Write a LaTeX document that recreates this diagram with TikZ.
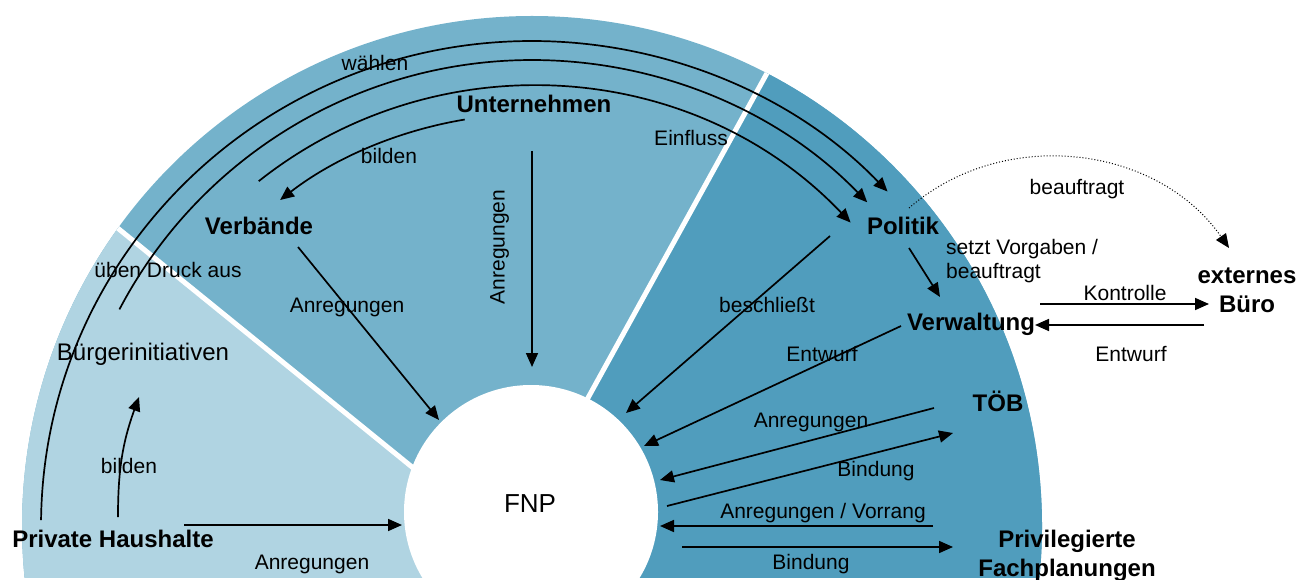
\documentclass[tikz,border=0pt]{standalone}
\usepackage{fontspec}
\setmainfont{Liberation Sans}
\usetikzlibrary{arrows.meta}
\definecolor{sectorA}{HTML}{B0D4E2}
\definecolor{sectorB}{HTML}{74B2CB}
\definecolor{sectorC}{HTML}{509DBD}
\tikzset{
  conn/.style={line width=1.7pt, -{Triangle[length=14pt,width=12pt]}},
  lbl/.style={font=\fontsize{21}{24}\selectfont, inner sep=0pt, text height=15.1pt, text depth=0pt},
  lblmulti/.style={font=\fontsize{21}{24}\selectfont, inner sep=0pt, align=left},
  actor/.style={font=\fontsize{24}{28}\selectfont\bfseries, inner sep=0pt, text height=17.3pt, text depth=0pt},
  actormulti/.style={font=\fontsize{24}{29}\selectfont\bfseries, inner sep=0pt, align=center},
  plain/.style={font=\fontsize{24}{28}\selectfont, inner sep=0pt, text height=17.3pt, text depth=0pt},
  divider/.style={white, line width=5pt},
}
\begin{document}
\begin{tikzpicture}[x=1pt,y=1pt]
\useasboundingbox (0,0) rectangle (1297,579);
\coordinate (C) at (532,53);

% three sectors of the half disc
\begin{scope}
  \clip (0,2) rectangle (1297,579);
  \clip (C) circle[radius=510];
  \fill[sectorB] (0,0) rectangle (1297,579);
  \fill[sectorA] (-26,467.5) -- (558,-6.5) -- (-30,-10) -- cycle;
  \fill[sectorC] (852,660) -- (465,-42) -- (1100,-42) -- (1100,660) -- cycle;
  \draw[divider] (-26,467.5) -- (558,-6.5);
  \draw[divider] (852,660) -- (465,-42);
\end{scope}

% central plan
\node[circle, fill=white, minimum size=254pt, inner sep=0pt] (fnpdisc) at (531,67) {};
\node[font=\fontsize{26}{30}\selectfont, inner sep=0pt, text height=18.7pt, text depth=0pt] (fnp) at (530,76) {FNP};

% actors
\node[actor] (unt) at (534,475) {Unternehmen};
\node[actor] (verb) at (259,353) {Verbände};
\node[actor] (pol) at (903,353) {Politik};
\node[actor] (verw) at (971,257) {Verwaltung};
\node[actor] (toeb) at (998,176) {TÖB};
\node[actormulti] (priv) at (1067,23) {Privilegierte\\Fachplanungen};
\node[actormulti] (ext) at (1247,289) {externes\\Büro};
\node[actor] (ph) at (113,40) {Private Haushalte};
\node[plain] (bi) at (143,227) {Bürgerinitiativen};

% connector end points
\coordinate (a1s) at ([shift={(179.3:491 and 485)}]C);
\coordinate (a2s) at ([shift={(152.3:466)}]C);
\coordinate (a3s) at ([shift={(128.4:440)}]C);
\coordinate (a4s) at ([shift={(99.4:412)}]C);
\coordinate (verbOut) at (298,332);   \coordinate (fnpNW) at (439,159);
\coordinate (untOut) at (532,428);    \coordinate (fnpN) at (532,212);
\coordinate (polOut) at (830,343);    \coordinate (fnpNE) at (626,166);
\coordinate (polDn) at (909,331);     \coordinate (verwUp) at (940,282);
\coordinate (polRt) at (909,371);     \coordinate (extUp) at (1229,331);
\coordinate (verwR1) at (1040,275);   \coordinate (extL1) at (1209,275);
\coordinate (extL2) at (1204,254);    \coordinate (verwR2) at (1035,254);
\coordinate (verwOut) at (901,253);   \coordinate (fnpE1) at (644,133);
\coordinate (toebOut) at (934,171);   \coordinate (fnpE2) at (660,99);
\coordinate (fnpE3) at (667,73);      \coordinate (toebIn) at (953,146);
\coordinate (privOut) at (933,53);    \coordinate (fnpE4) at (660,53);
\coordinate (fnpE5) at (682,32);      \coordinate (privIn) at (953,32);
\coordinate (phOut) at (184,54);      \coordinate (fnpW) at (402,54);
\coordinate (phUp) at (118,62);       \coordinate (biDn) at (139,182);

% connectors
\draw[conn] (a1s) arc[start angle=179.3, end angle=43.6, x radius=491, y radius=485];
\draw[conn] (a2s) arc[start angle=152.3, end angle=44, radius=466];
\draw[conn] (a3s) arc[start angle=128.4, end angle=43.6, radius=440];
\draw[conn] (a4s) arc[start angle=99.4, end angle=127.7, radius=412];
\draw[conn] (verbOut) -- (fnpNW);
\draw[conn] (untOut) -- (fnpN);
\draw[conn] (polOut) -- (fnpNE);
\draw[conn] (polDn) -- (verwUp);
\draw[conn, line width=1pt, dash pattern=on 1pt off 2pt] (polRt) to[bend left=48] (extUp);
\draw[conn] (verwR1) -- (extL1);
\draw[conn] (extL2) -- (verwR2);
\draw[conn] (verwOut) -- (fnpE1);
\draw[conn] (toebOut) -- (fnpE2);
\draw[conn] (fnpE3) -- (toebIn);
\draw[conn] (privOut) -- (fnpE4);
\draw[conn] (fnpE5) -- (privIn);
\draw[conn] (phOut) -- (fnpW);
\draw[conn] (phUp) to[bend left=10] (biDn);

% connector labels
\node[lbl] (tWaehlen) at (375,516) {wählen};
\node[lbl] (tDruck) at (168,309) {üben Druck aus};
\node[lbl] (tBilden1) at (389,423) {bilden};
\node[lbl] (tEinfluss) at (691,441) {Einfluss};
\node[lbl] (tBeauftragt) at (1077,392) {beauftragt};
\node[lblmulti, anchor=west] (tVorgaben) at (946,318) {setzt Vorgaben /\\beauftragt};
\node[lbl] (tAnr1) at (347,274) {Anregungen};
\node[lbl, rotate=90] (tAnr2) at (497,332) {Anregungen};
\node[lbl] (tBeschl) at (767,274) {beschließt};
\node[lbl] (tEntw1) at (822,225) {Entwurf};
\node[lbl] (tAnr3) at (811,159) {Anregungen};
\node[lbl] (tBind1) at (876,110) {Bindung};
\node[lbl] (tVorrang) at (823,68) {Anregungen / Vorrang};
\node[lbl] (tBind2) at (811,17) {Bindung};
\node[lbl] (tAnr4) at (312,17) {Anregungen};
\node[lbl] (tBilden2) at (129,113) {bilden};
\node[lbl] (tKontrolle) at (1125,286) {Kontrolle};
\node[lbl] (tEntw2) at (1131,225) {Entwurf};
\end{tikzpicture}
\end{document}
